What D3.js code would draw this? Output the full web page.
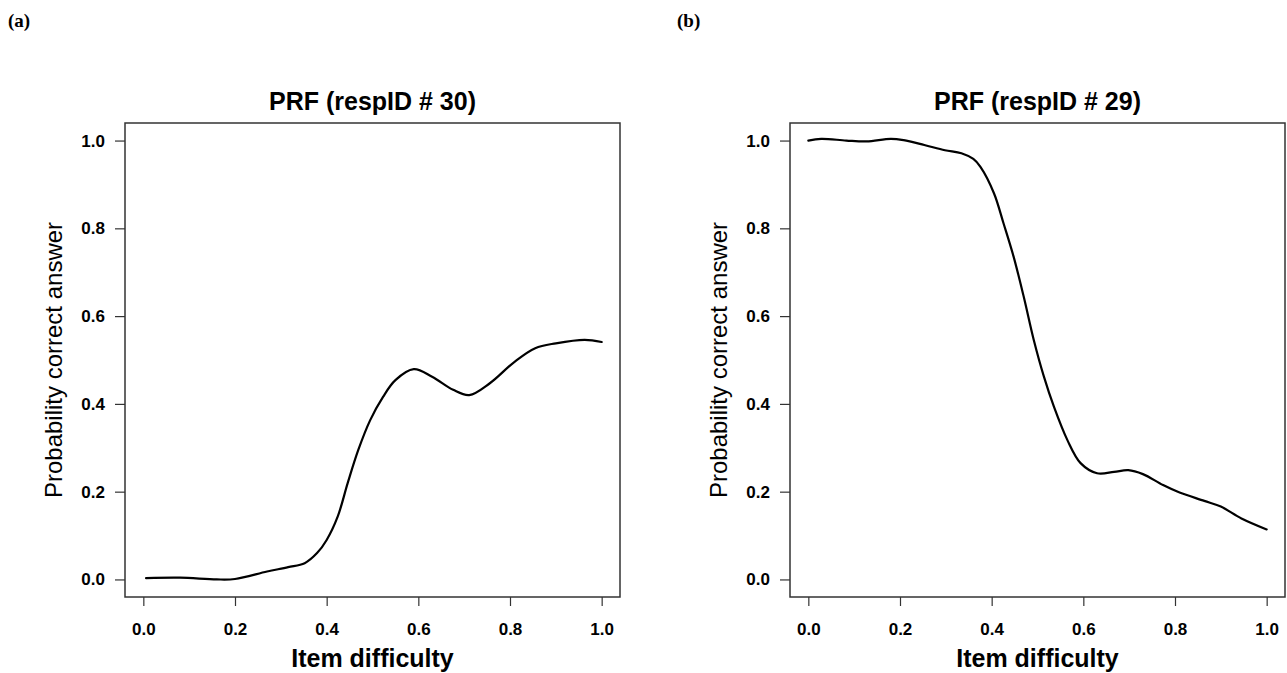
<!DOCTYPE html>
<html>
<head>
<meta charset="utf-8">
<script src="https://cdn.jsdelivr.net/npm/d3@7"></script>
<style>
  html, body { margin: 0; padding: 0; background: #fff; }
  svg { display: block; }
</style>
</head>
<body>
<svg id="chart" width="1287" height="673"></svg>
<script>
// ---- data ----
const tickValues = [0.0, 0.2, 0.4, 0.6, 0.8, 1.0];
const tickLabels = ["0.0", "0.2", "0.4", "0.6", "0.8", "1.0"];

const titleA = "PRF (respID # 30)";
const titleB = "PRF (respID # 29)";
const panelLabels = ["(a)", "(b)"];
const xLabel = "Item difficulty";
const yLabel = "Probability correct answer";

const xA = [0.006, 0.08, 0.16, 0.2, 0.27, 0.316, 0.352, 0.379, 0.40, 0.424, 0.446, 0.469, 0.495, 0.523, 0.55, 0.59, 0.63, 0.676, 0.711, 0.756, 0.81, 0.855, 0.90, 0.963, 1.0];
const yA = [0.003, 0.004, 0.0, 0.001, 0.018, 0.028, 0.037, 0.06, 0.09, 0.143, 0.22, 0.295, 0.363, 0.416, 0.454, 0.479, 0.462, 0.432, 0.42, 0.447, 0.496, 0.527, 0.538, 0.546, 0.541];

const xB = [0.0, 0.028, 0.083, 0.127, 0.18, 0.208, 0.253, 0.298, 0.334, 0.36, 0.3755, 0.405, 0.426, 0.448, 0.47, 0.492, 0.514, 0.536, 0.565, 0.594, 0.63, 0.667, 0.698, 0.73, 0.774, 0.81, 0.864, 0.90, 0.945, 1.0];
const yB = [1.0, 1.004, 1.0, 0.998, 1.004, 1.001, 0.99, 0.978, 0.971, 0.958, 0.94, 0.88, 0.811, 0.735, 0.644, 0.545, 0.462, 0.393, 0.318, 0.265, 0.242, 0.245, 0.249, 0.24, 0.215, 0.198, 0.179, 0.166, 0.139, 0.114];

// ---- drawing ----
const svg = d3.select("#chart");
const boxTop = 123, boxBottom = 597;

function panel(left, right, xs, ys, title, label, labelX) {
  const g = svg.append("g");
  const x = d3.scaleLinear().domain([-0.04, 1.04]).range([left, right]);
  const y = d3.scaleLinear().domain([-0.04, 1.04]).range([boxBottom, boxTop]);

  // panel label
  g.append("text").attr("x", labelX).attr("y", 27)
    .attr("font-family", "Liberation Serif, serif").attr("font-weight", "bold")
    .attr("font-size", 19).attr("fill", "#000").text(label);

  // title
  g.append("text").attr("x", (left + right) / 2).attr("y", 110)
    .attr("text-anchor", "middle")
    .attr("font-family", "Liberation Sans, Arial, sans-serif").attr("font-weight", "bold")
    .attr("font-size", 25).attr("fill", "#000").text(title);

  // x axis
  const xAxis = d3.axisBottom(x).tickValues(tickValues)
    .tickFormat((d, i) => tickLabels[i]).tickSize(9).tickPadding(17);
  const gx = g.append("g").attr("transform", `translate(0,${boxBottom})`).call(xAxis);
  gx.select(".domain").remove();
  gx.selectAll(".tick line").attr("stroke", "#333").attr("stroke-width", 1.2);
  gx.selectAll(".tick text").attr("font-family", "Liberation Sans, Arial, sans-serif")
    .attr("font-weight", "bold").attr("font-size", 17).attr("fill", "#000");

  // y axis
  const yAxis = d3.axisLeft(y).tickValues(tickValues)
    .tickFormat((d, i) => tickLabels[i]).tickSize(10).tickPadding(10);
  const gy = g.append("g").attr("transform", `translate(${left},0)`).call(yAxis);
  gy.select(".domain").remove();
  gy.selectAll(".tick line").attr("stroke", "#333").attr("stroke-width", 1.2);
  gy.selectAll(".tick text").attr("font-family", "Liberation Sans, Arial, sans-serif")
    .attr("font-weight", "bold").attr("font-size", 17).attr("fill", "#000");

  // box
  g.append("rect").attr("x", left).attr("y", boxTop)
    .attr("width", right - left).attr("height", boxBottom - boxTop)
    .attr("fill", "none").attr("stroke", "#333").attr("stroke-width", 1.5);

  // axis titles
  g.append("text").attr("x", (left + right) / 2).attr("y", 667)
    .attr("text-anchor", "middle")
    .attr("font-family", "Liberation Sans, Arial, sans-serif").attr("font-weight", "bold")
    .attr("font-size", 25).attr("fill", "#000").text(xLabel);

  g.append("text")
    .attr("transform", `translate(${left - 63},${(boxTop + boxBottom) / 2}) rotate(-90)`)
    .attr("text-anchor", "middle")
    .attr("font-family", "Liberation Sans, Arial, sans-serif")
    .attr("font-size", 24).attr("fill", "#000").text(yLabel);

  // curve
  const pts = xs.map((v, i) => [v, ys[i]]);
  const line = d3.line().x(d => x(d[0])).y(d => y(d[1])).curve(d3.curveCatmullRom.alpha(0.5));
  g.append("path").datum(pts).attr("d", line)
    .attr("fill", "none").attr("stroke", "#000").attr("stroke-width", 2.2)
    .attr("stroke-linejoin", "round").attr("stroke-linecap", "round");
}

panel(125, 620, xA, yA, titleA, panelLabels[0], 8);
panel(790, 1285, xB, yB, titleB, panelLabels[1], 677);
</script>
</body>
</html>
